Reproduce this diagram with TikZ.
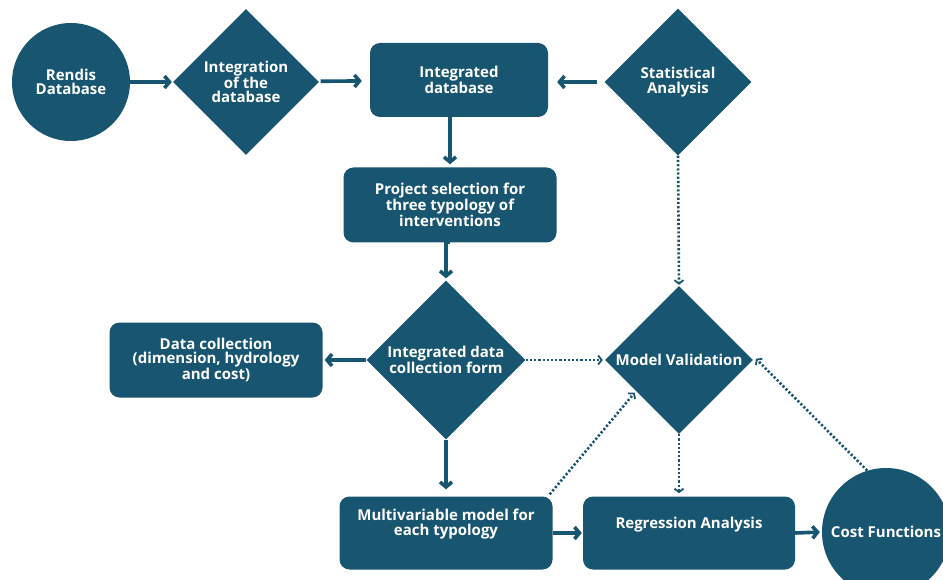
\documentclass[tikz,border=0pt]{standalone}
\usepackage{fontspec}
\setmainfont{Open Sans}
\usetikzlibrary{shapes.geometric,arrows.meta,calc}
\definecolor{mainblue}{RGB}{24,85,112}
\begin{document}
\begin{tikzpicture}[x=1pt,y=-1pt,
  base/.style={fill=mainblue, text=white, font=\fontsize{15}{14.5}\selectfont\bfseries, align=center, inner sep=0pt},
  box/.style={base, rectangle, rounded corners=10pt, minimum width=#1, minimum height=74pt},
  dia/.style={base, diamond, minimum width=#1, minimum height=#1},
  circ/.style={base, circle, minimum size=#1},
  txt/.style={text=white, font=\fontsize{15}{14.5}\selectfont\bfseries, align=center, inner sep=0pt},
  solid arrow/.style={draw=mainblue, line width=3.6pt, -{Straight Barb[length=5pt,width=12pt]}},
  dot arrow/.style={draw=mainblue, line width=2.6pt, dash pattern=on 2.2pt off 2pt, -{Straight Barb[length=3.5pt,width=9pt,line width=1.8pt]}}
]
\useasboundingbox (0,0) rectangle (943,580);
\clip (0,0) rectangle (943,580);

\node[circ=118pt] (rendis) at (71,82) {Rendis\\Database};
\node[dia=146pt] (integ) at (246,82) {Integration\\of the\\database};
\node[box=178pt] (intdb) at (459,80) {Integrated\\database};
\node[dia=147pt] (stat) at (678,82) {Statistical\\Analysis};
\node[box=213pt, minimum height=75pt] (proj) at (450,205) {Project selection for\\three typology of\\interventions};
\node[dia=159pt] (idcf) at (446,360) {Integrated data\\collection form};
\node[box=213pt, minimum height=75pt] (datac) at (216,360) {Data collection\\(dimension, hydrology\\and cost)};
\node[dia=148pt] (mv) at (679,360) {Model Validation};
\node[box=213pt, minimum height=73pt] (multi) at (446,533) {};
\node[txt] (multitxt) at (446,524) {Multivariable model for\\each typology};
\node[box=212pt, minimum height=73pt] (regr) at (689,533) {};
\node[txt] (regrtxt) at (689,525) {Regression Analysis};
\node[circ=128pt] (cost) at (886,532) {Cost Functions};

\draw[solid arrow, shorten >=1pt] (rendis) -- (integ);
\draw[solid arrow, shorten <=2pt, shorten >=8pt] (integ) -- (intdb);
\draw[solid arrow, shorten <=7pt, shorten >=9pt] (stat) -- (stat -| intdb.east);
\draw[solid arrow, shorten >=3pt] (intdb.south -| proj.north) -- (proj.north);
\draw[solid arrow, shorten >=2pt] (proj.south) -- (proj.south -| idcf.north) -- (idcf.north);
\draw[solid arrow, shorten >=2pt] (idcf.west) -- (datac.east);
\draw[solid arrow, shorten >=7pt] (idcf.south) -- (multi.north);
\draw[solid arrow, shorten >=1pt] (multi.east |- regr.east) -- (regr.west);
\draw[solid arrow, shorten >=2pt] (regr.east) -- (cost.west);

\draw[dot arrow, shorten >=1pt] (stat.south) -- (mv.north);
\draw[dot arrow, shorten >=2pt] (idcf.east) -- (mv.west);
\draw[dot arrow, shorten >=2pt] ([xshift=-3pt,yshift=2pt]multi.north east) -- ($(mv.west)!0.42!(mv.south)$);
\draw[dot arrow, shorten >=3pt] (mv.south) -- (mv.south |- regr.north);
\draw[dot arrow, shorten >=1pt] (cost.107) -- ([xshift=2pt,yshift=2pt]mv.east);
\end{tikzpicture}
\end{document}
